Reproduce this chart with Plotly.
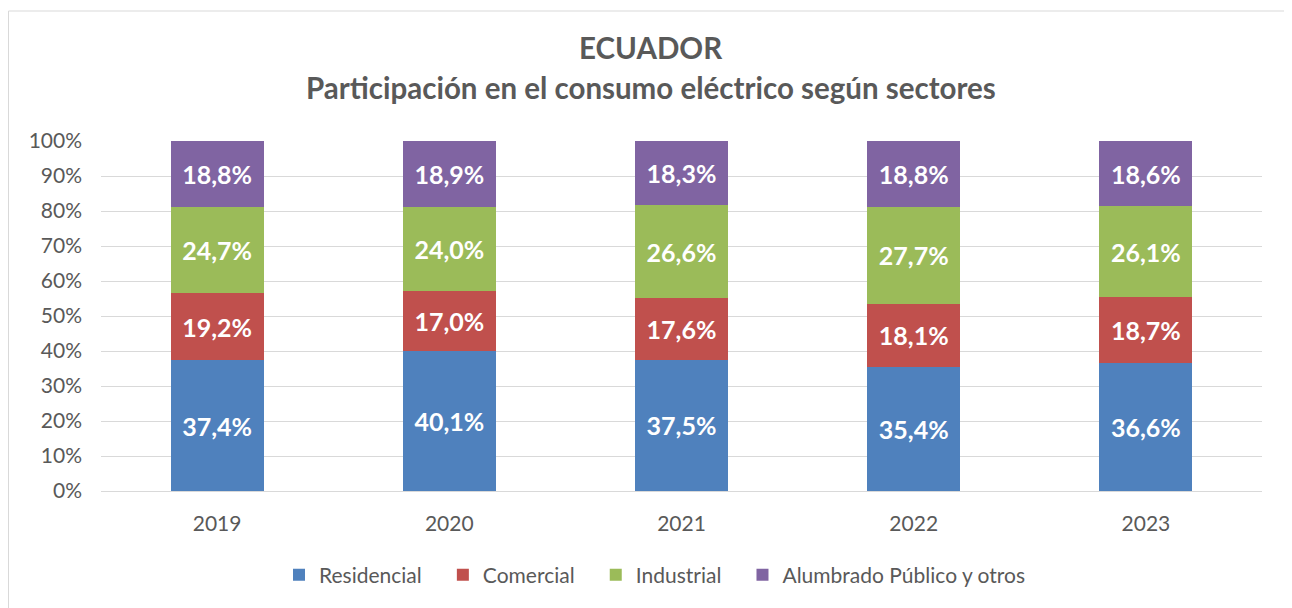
import plotly.graph_objects as go

years = ["2019", "2020", "2021", "2022", "2023"]
residencial = [37.4, 40.1, 37.5, 35.4, 36.6]
comercial = [19.2, 17.0, 17.6, 18.1, 18.7]
industrial = [24.7, 24.0, 26.6, 27.7, 26.1]
alumbrado = [18.8, 18.9, 18.3, 18.8, 18.6]

title_main = "ECUADOR"
title_sub = "Participación en el consumo eléctrico según sectores"

series = [
    ("Residencial", residencial, "#4F81BD"),
    ("Comercial", comercial, "#C0504D"),
    ("Industrial", industrial, "#9BBB59"),
    ("Alumbrado Público y otros", alumbrado, "#8064A2"),
]

FONT = "Lato"
GRAY = "#595959"
PAD = "\u00a0\u00a0\u00a0"

fig = go.Figure()
for i, (name, vals, color) in enumerate(series):
    label = name + (PAD if i < len(series) - 1 else "")
    fig.add_trace(go.Bar(
        x=years, y=vals, name=label,
        marker=dict(color=color, line=dict(width=0)),
        texttemplate="%{y:.1f}%",
        textposition="inside",
        insidetextanchor="middle",
        textangle=0,
        textfont=dict(family=FONT, size=25, color="white", weight="bold"),
    ))

# page has an 8px body margin; figure coords = page coords - 8
W, H = 1284, 600
ml, mr, mt, mb = 93, 30, 133, 117
pw, ph = W - ml - mr, H - mt - mb

def px(x):
    return (x - ml) / pw

def py(y):
    return (H - mb - y) / ph

fig.update_layout(
    width=W, height=H,
    barmode="stack", barnorm="percent", bargap=0.6,
    separators=",.",
    paper_bgcolor="white", plot_bgcolor="white",
    margin=dict(l=ml, r=mr, t=mt, b=mb),
    font=dict(family=FONT, color=GRAY),
    xaxis=dict(
        tickfont=dict(family=FONT, size=21, color=GRAY),
        showgrid=False, showline=True, linecolor="#D9D9D9", linewidth=1,
        ticks="", ticklabelstandoff=14,
    ),
    yaxis=dict(
        range=[0, 100], dtick=10, ticksuffix="%",
        tickfont=dict(family=FONT, size=21, color=GRAY),
        showgrid=True, gridcolor="#D9D9D9", gridwidth=1,
        zeroline=False, showline=False, ticks="", ticklabelstandoff=18,
    ),
    legend=dict(
        orientation="h", x=px(647), xanchor="center",
        y=py(567), yanchor="middle",
        font=dict(family=FONT, size=21, color=GRAY),
        traceorder="normal",
        itemwidth=30,
    ),
    annotations=[
        dict(text=title_main, x=px(643), xref="paper", y=py(40), yref="paper",
             xanchor="center", yanchor="middle", showarrow=False,
             font=dict(family=FONT, size=29.5, color=GRAY, weight="bold")),
        dict(text=title_sub, x=px(643), xref="paper", y=py(80), yref="paper",
             xanchor="center", yanchor="middle", showarrow=False,
             font=dict(family=FONT, size=29.5, color=GRAY, weight="bold")),
    ],
    shapes=[dict(
        type="rect", xref="paper", yref="paper",
        x0=px(0.5), x1=px(1283.5), y0=py(640), y1=py(3),
        line=dict(color="#D9D9D9", width=1), fillcolor="rgba(0,0,0,0)",
        layer="below",
    )],
)

fig.write_html("out.html")
